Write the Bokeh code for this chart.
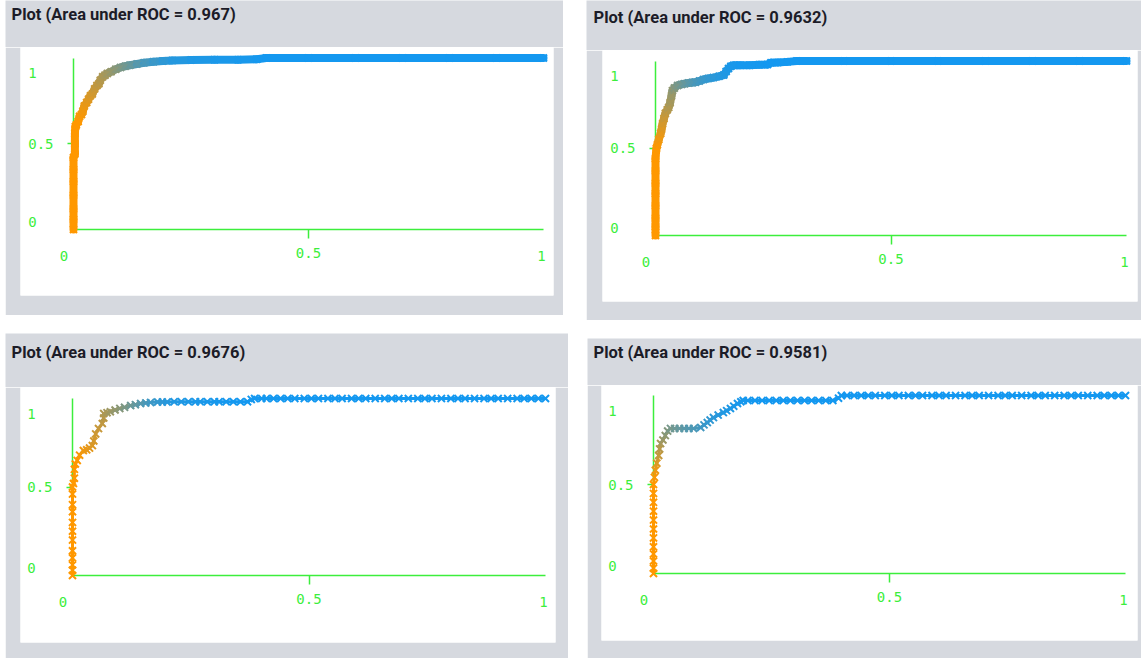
from bokeh.plotting import figure
from bokeh.layouts import row, column
from bokeh.models import Range1d, LinearAxis, FixedTicker, ColumnDataSource
from bokeh.core.properties import value
from bokeh.embed import file_html
from bokeh.resources import INLINE

# ---------------- data ----------------
titles = ["Plot (Area under ROC = 0.967)", "Plot (Area under ROC = 0.9632)",
          "Plot (Area under ROC = 0.9676)", "Plot (Area under ROC = 0.9581)"]
tick_values = [0, 0.5, 1]
tick_labels = ["0", "0.5", "1"]

# panel 1: false positive rate, true positive rate, threshold (1 = orange ... 0 = blue)
fpr1 = [0.0, 0.0, 0.0, 0.0, 0.0, 0.0, 0.0, 0.003, 0.003, 0.003,
        0.004, 0.006, 0.01, 0.013, 0.017, 0.02, 0.023, 0.028, 0.032, 0.036,
        0.04, 0.045, 0.05, 0.054, 0.057, 0.062, 0.067, 0.072, 0.08, 0.09,
        0.1, 0.11, 0.12, 0.135, 0.15, 0.17, 0.19, 0.21, 0.25, 0.3,
        0.35, 0.39, 0.41, 0.5, 0.6, 0.7, 0.8, 0.9, 1.0]
tpr1 = [0.0, 0.06, 0.12, 0.2, 0.28, 0.35, 0.42, 0.44, 0.5, 0.56,
        0.6, 0.61, 0.63, 0.66, 0.67, 0.69, 0.72, 0.74, 0.76, 0.78,
        0.79, 0.82, 0.84, 0.85, 0.87, 0.89, 0.9, 0.91, 0.92, 0.935,
        0.945, 0.952, 0.958, 0.965, 0.972, 0.978, 0.982, 0.985, 0.988, 0.99,
        0.99, 0.993, 1.0, 1.0, 1.0, 1.0, 1.0, 1.0, 1.0]
thr1 = [1, 1, 1, 1, 1, 1, 1, 1, 1, 1,
        1, 1, 1, 0.98, 0.96, 0.94, 0.92, 0.89, 0.86, 0.83,
        0.8, 0.77, 0.74, 0.71, 0.68, 0.65, 0.62, 0.59, 0.55, 0.5,
        0.45, 0.4, 0.35, 0.29, 0.23, 0.17, 0.12, 0.08, 0.05, 0.03,
        0.02, 0.01, 0, 0, 0, 0, 0, 0, 0]

# panel 2
fpr2 = [0.0, 0.0, 0.0, 0.0, 0.0, 0.0, 0.0, 0.0, 0.002, 0.004,
        0.007, 0.011, 0.013, 0.015, 0.018, 0.021, 0.025, 0.028, 0.031, 0.034,
        0.036, 0.04, 0.047, 0.055, 0.062, 0.07, 0.078, 0.085, 0.093, 0.102,
        0.112, 0.123, 0.135, 0.145, 0.15, 0.155, 0.16, 0.166, 0.18, 0.2,
        0.22, 0.238, 0.245, 0.26, 0.28, 0.3, 0.4, 0.5, 0.6, 0.7,
        0.8, 0.9, 1.0]
tpr2 = [0.0, 0.05, 0.1, 0.17, 0.24, 0.3, 0.37, 0.44, 0.5, 0.52,
        0.55, 0.585, 0.61, 0.64, 0.67, 0.7, 0.72, 0.734, 0.76, 0.8,
        0.83, 0.845, 0.86, 0.866, 0.87, 0.874, 0.877, 0.878, 0.885, 0.894,
        0.9, 0.905, 0.912, 0.92, 0.94, 0.957, 0.97, 0.975, 0.975, 0.976,
        0.978, 0.98, 0.99, 0.992, 0.995, 1.0, 1.0, 1.0, 1.0, 1.0,
        1.0, 1.0, 1.0]
thr2 = [1, 1, 1, 1, 1, 1, 1, 1, 1, 0.97,
        0.94, 0.9, 0.86, 0.82, 0.78, 0.74, 0.7, 0.66, 0.62, 0.58,
        0.53, 0.48, 0.43, 0.38, 0.34, 0.3, 0.26, 0.22, 0.19, 0.16,
        0.13, 0.1, 0.08, 0.06, 0.05, 0.04, 0.03, 0.02, 0.01, 0.01,
        0.01, 0, 0, 0, 0, 0, 0, 0, 0, 0,
        0, 0, 0]

# panel 3
fpr3 = [0.0, 0.0, 0.0, 0.0, 0.0, 0.0, 0.0, 0.0, 0.0, 0.0,
        0.0, 0.0, 0.002, 0.004, 0.004, 0.006, 0.01, 0.015, 0.023, 0.03,
        0.036, 0.042, 0.045, 0.049, 0.055, 0.063, 0.066, 0.066, 0.073, 0.08,
        0.09, 0.1, 0.11, 0.123, 0.133, 0.144, 0.155, 0.165, 0.18, 0.19,
        0.2, 0.215, 0.23, 0.245, 0.26, 0.27, 0.285, 0.3, 0.31, 0.325,
        0.34, 0.355, 0.37, 0.378, 0.385, 0.4, 0.41, 0.425, 0.44, 0.455,
        0.47, 0.49, 0.505, 0.52, 0.54, 0.555, 0.57, 0.59, 0.605, 0.62,
        0.64, 0.66, 0.675, 0.69, 0.71, 0.73, 0.745, 0.76, 0.78, 0.8,
        0.815, 0.83, 0.85, 0.87, 0.885, 0.9, 0.92, 0.94, 0.955, 0.97,
        0.985, 1.0]
tpr3 = [0.0, 0.03, 0.06, 0.1, 0.14, 0.2, 0.25, 0.3, 0.36, 0.4,
        0.46, 0.5, 0.52, 0.55, 0.6, 0.63, 0.65, 0.68, 0.706, 0.71,
        0.72, 0.734, 0.76, 0.8, 0.83, 0.859, 0.89, 0.915, 0.92, 0.925,
        0.935, 0.944, 0.95, 0.96, 0.965, 0.972, 0.975, 0.978, 0.98, 0.98,
        0.98, 0.982, 0.982, 0.982, 0.982, 0.982, 0.982, 0.982, 0.982, 0.982,
        0.982, 0.982, 0.982, 0.995, 1.0, 1.0, 1.0, 1.0, 1.0, 1.0,
        1.0, 1.0, 1.0, 1.0, 1.0, 1.0, 1.0, 1.0, 1.0, 1.0,
        1.0, 1.0, 1.0, 1.0, 1.0, 1.0, 1.0, 1.0, 1.0, 1.0,
        1.0, 1.0, 1.0, 1.0, 1.0, 1.0, 1.0, 1.0, 1.0, 1.0,
        1.0, 1.0]
thr3 = [1, 1, 1, 1, 1, 1, 1, 1, 1, 1,
        1, 1, 1, 1, 1, 1, 1, 0.97, 0.94, 0.91,
        0.88, 0.85, 0.82, 0.79, 0.76, 0.73, 0.7, 0.66, 0.62, 0.58,
        0.54, 0.5, 0.44, 0.38, 0.33, 0.28, 0.23, 0.18, 0.14, 0.11,
        0.08, 0.06, 0.05, 0.04, 0.03, 0.03, 0.02, 0.02, 0.01, 0.01,
        0, 0, 0, 0, 0, 0, 0, 0, 0, 0,
        0, 0, 0, 0, 0, 0, 0, 0, 0, 0,
        0, 0, 0, 0, 0, 0, 0, 0, 0, 0,
        0, 0, 0, 0, 0, 0, 0, 0, 0, 0,
        0, 0]

# panel 4
fpr4 = [0.0, 0.0, 0.0, 0.0, 0.0, 0.0, 0.0, 0.0, 0.0, 0.0,
        0.0, 0.0, 0.002, 0.004, 0.007, 0.011, 0.013, 0.015, 0.02, 0.025,
        0.03, 0.036, 0.045, 0.055, 0.065, 0.075, 0.085, 0.1, 0.107, 0.114,
        0.12, 0.127, 0.137, 0.148, 0.155, 0.163, 0.17, 0.178, 0.185, 0.19,
        0.2, 0.215, 0.23, 0.245, 0.26, 0.275, 0.29, 0.305, 0.32, 0.335,
        0.35, 0.365, 0.38, 0.392, 0.398, 0.41, 0.425, 0.44, 0.455, 0.47,
        0.49, 0.505, 0.52, 0.54, 0.555, 0.57, 0.59, 0.605, 0.62, 0.64,
        0.66, 0.675, 0.69, 0.71, 0.73, 0.745, 0.76, 0.78, 0.8, 0.815,
        0.83, 0.85, 0.87, 0.885, 0.9, 0.92, 0.94, 0.955, 0.97, 0.985,
        1.0]
tpr4 = [0.0, 0.03, 0.07, 0.11, 0.15, 0.2, 0.25, 0.3, 0.35, 0.4,
        0.45, 0.5, 0.54, 0.58, 0.62, 0.663, 0.7, 0.73, 0.75, 0.775,
        0.8, 0.815, 0.815, 0.815, 0.815, 0.815, 0.815, 0.82, 0.835, 0.848,
        0.862, 0.876, 0.89, 0.904, 0.915, 0.927, 0.94, 0.955, 0.965, 0.972,
        0.972, 0.972, 0.972, 0.972, 0.972, 0.972, 0.972, 0.972, 0.972, 0.972,
        0.972, 0.972, 0.972, 0.985, 1.0, 1.0, 1.0, 1.0, 1.0, 1.0,
        1.0, 1.0, 1.0, 1.0, 1.0, 1.0, 1.0, 1.0, 1.0, 1.0,
        1.0, 1.0, 1.0, 1.0, 1.0, 1.0, 1.0, 1.0, 1.0, 1.0,
        1.0, 1.0, 1.0, 1.0, 1.0, 1.0, 1.0, 1.0, 1.0, 1.0,
        1.0]
thr4 = [1, 1, 1, 1, 1, 1, 1, 1, 1, 1,
        1, 1, 0.97, 0.92, 0.85, 0.75, 0.7, 0.64, 0.58, 0.52,
        0.47, 0.42, 0.38, 0.34, 0.3, 0.27, 0.24, 0.2, 0.17, 0.14,
        0.12, 0.1, 0.08, 0.06, 0.05, 0.04, 0.03, 0.02, 0.02, 0.01,
        0.01, 0, 0, 0, 0, 0, 0, 0, 0, 0,
        0, 0, 0, 0, 0, 0, 0, 0, 0, 0,
        0, 0, 0, 0, 0, 0, 0, 0, 0, 0,
        0, 0, 0, 0, 0, 0, 0, 0, 0, 0,
        0, 0, 0, 0, 0, 0, 0, 0, 0, 0,
        0]

# ---------------- styling / layout ----------------
GREEN = "#3cee3c"
GREY = "#d6d9df"
ORANGE = (255, 152, 0)
BLUE = (20, 152, 240)


def mix(t):
    c = [round(ORANGE[k] * t + BLUE[k] * (1 - t)) for k in range(3)]
    return "#%02x%02x%02x" % tuple(c)


# W,H: panel size; L,R,T,B: grey borders round the white area (T = header height);
# ox,oy: axis origin from white-area left/bottom; sx,sy: pixels per unit;
# margin: (top,right,bottom,left); tx,ty: title position inside the header
panels = [
    dict(fpr=fpr1, tpr=tpr1, thr=thr1, title=titles[0], W=558, H=315, L=15, R=10, T=47, B=20,
         ox=53, oy=66, sx=470, sy=171.5, lw=8, ms=10, mw=2, margin=(0, 0, 0, 5), tx=6, ty=14),
    dict(fpr=fpr2, tpr=tpr2, thr=thr2, title=titles[1], W=555, H=320, L=16, R=4, T=50, B=19,
         ox=53, oy=66, sx=471, sy=174.5, lw=8, ms=10, mw=2, margin=(0, 0, 0, 23), tx=7, ty=17),
    dict(fpr=fpr3, tpr=tpr3, thr=thr3, title=titles[2], W=563, H=325, L=15, R=13, T=54, B=16,
         ox=52, oy=67, sx=473, sy=177, lw=3, ms=10, mw=2, margin=(13, 0, 0, 5), tx=6, ty=19),
    dict(fpr=fpr4, tpr=tpr4, thr=thr4, title=titles[3], W=554, H=320, L=14, R=4, T=47, B=18,
         ox=52, oy=67, sx=472, sy=178, lw=3, ms=10, mw=2, margin=(18, 0, 0, 19), tx=6, ty=14),
]

blocks = []
for cfg in panels:
    W, T = cfg["W"], cfg["T"]
    fw = W - cfg["L"] - cfg["R"]
    fh = cfg["H"] - T - cfg["B"]

    # grey header strip carrying the title
    hd = figure(width=W, height=T, x_range=Range1d(0, W), y_range=Range1d(T, 0),
                output_backend="svg", toolbar_location=None,
                x_axis_location=None, y_axis_location=None,
                min_border_left=0, min_border_right=0, min_border_top=0, min_border_bottom=0,
                background_fill_color=GREY, border_fill_color=GREY, frame_align=False)
    hd.grid.visible = False
    hd.outline_line_color = None
    hd.text(x=[cfg["tx"]], y=[cfg["ty"]], text=[cfg["title"]],
            text_font=value("Roboto"), text_font_size="16.5px", text_font_style="bold",
            text_color="#1c1c28", text_align="left", text_baseline="middle")

    p = figure(width=W, height=cfg["H"] - T,
               x_range=Range1d(-cfg["ox"] / cfg["sx"], (fw - cfg["ox"]) / cfg["sx"]),
               y_range=Range1d(-cfg["oy"] / cfg["sy"], (fh - cfg["oy"]) / cfg["sy"]),
               output_backend="svg", toolbar_location=None,
               x_axis_location=None, y_axis_location=None,
               min_border_left=cfg["L"], min_border_right=cfg["R"],
               min_border_top=0, min_border_bottom=cfg["B"],
               background_fill_color="white", border_fill_color=GREY, frame_align=False)
    p.grid.visible = False
    p.outline_line_color = None

    # axes through the origin; only 0.5 carries a tick mark and an axis label
    xax = LinearAxis(fixed_location=0, ticker=FixedTicker(ticks=[0.5]), bounds=(0, 1),
                     axis_line_color=GREEN, axis_line_width=1.5,
                     major_tick_line_color=GREEN, major_tick_line_width=1.5,
                     major_tick_in=0, major_tick_out=9, minor_tick_line_color=None,
                     major_label_standoff=9,
                     major_label_text_font="DejaVu Sans Mono",
                     major_label_text_font_size="14px", major_label_text_color=GREEN)
    yax = LinearAxis(fixed_location=0, ticker=FixedTicker(ticks=[0.5]), bounds=(0, 1),
                     axis_line_color=GREEN, axis_line_width=1.5,
                     major_tick_line_color=GREEN, major_tick_line_width=1.5,
                     major_tick_in=0, major_tick_out=6, minor_tick_line_color=None,
                     major_label_standoff=14,
                     major_label_text_font="DejaVu Sans Mono",
                     major_label_text_font_size="14px", major_label_text_color=GREEN)
    xax.level = "underlay"
    yax.level = "underlay"
    p.add_layout(xax, "below")
    p.add_layout(yax, "left")

    # the 0 and 1 labels sit off their ticks in the original
    ends = [tick_values[0], tick_values[2]]
    end_labels = [tick_labels[0], tick_labels[2]]
    lab = ColumnDataSource(dict(
        x=[0, 0] + ends,
        y=ends + [0, 0],
        text=end_labels + end_labels,
        dx=[-41, -41, -9.5, -2],
        dy=[-7.5, 15, 26, 26],
    ))
    p.text(x="x", y="y", text="text", x_offset="dx", y_offset="dy", source=lab,
           text_align="center", text_baseline="middle",
           text_font=value("DejaVu Sans Mono"), text_font_size="14px", text_color=GREEN)

    fpr, tpr, thr = cfg["fpr"], cfg["tpr"], cfg["thr"]
    seg = ColumnDataSource(dict(
        x0=fpr[:-1], y0=tpr[:-1], x1=fpr[1:], y1=tpr[1:],
        c=[mix((thr[i] + thr[i + 1]) / 2) for i in range(len(fpr) - 1)],
    ))
    p.segment(x0="x0", y0="y0", x1="x1", y1="y1", color="c", line_width=cfg["lw"],
              line_cap="round", source=seg)
    pts = ColumnDataSource(dict(x=fpr, y=tpr, c=[mix(t) for t in thr]))
    p.scatter(x="x", y="y", marker="x", size=cfg["ms"], line_color="c", line_width=cfg["mw"],
              source=pts)

    blocks.append(column(hd, p, spacing=0, margin=cfg["margin"]))

layout = column(row(blocks[0], blocks[1]), row(blocks[2], blocks[3]))

open("out.html", "w").write(file_html(layout, INLINE))
